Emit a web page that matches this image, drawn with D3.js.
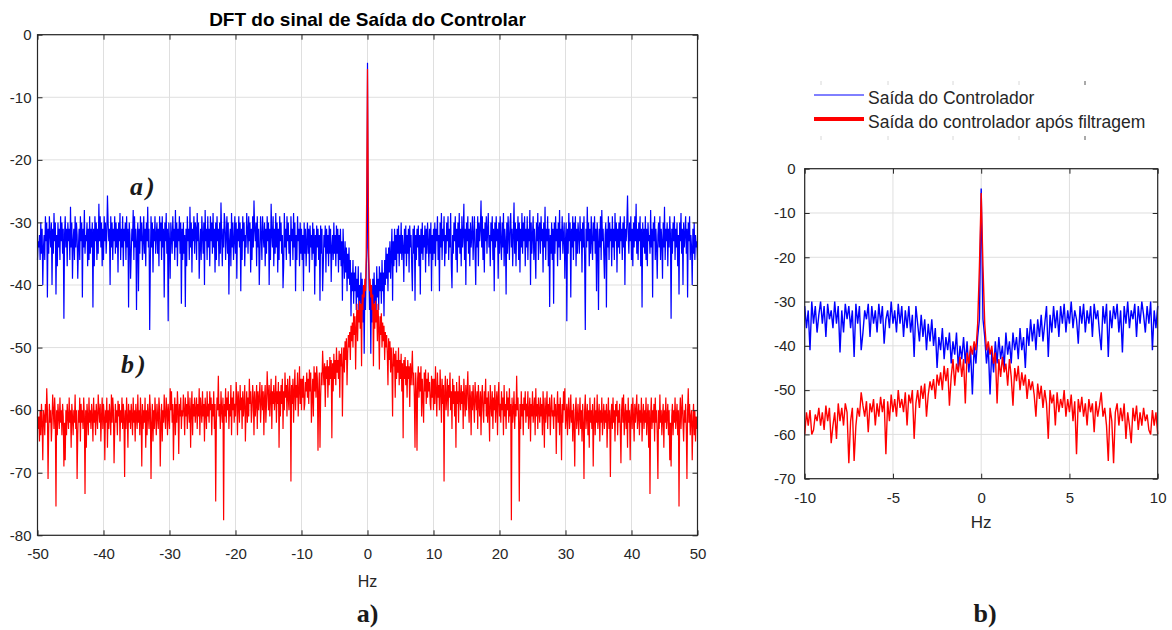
<!DOCTYPE html>
<html>
<head>
<meta charset="utf-8">
<script src="https://cdn.jsdelivr.net/npm/d3@7"></script>
<style>
  body { margin: 0; background: #ffffff; }
  svg text { font-family: "Liberation Sans", Arial, sans-serif; }
</style>
</head>
<body>
<svg id="chart" width="1172" height="630"></svg>
<script>
// DFT magnitude (dB) of the controller output, positive-frequency half.
// Bins 0 .. 10 Hz, step 0.1 Hz
const centerStep = 0.1;
const blueCenter = [
  -4.5,-34,-38,-44,-40,-51,-41,-46,-39,-44,
  -38,-43,-40,-45,-37,-42,-39,-44,-37,-41,
  -38,-43,-36,-41,-38,-45,-36,-40,-34,-39,
  -35,-41,-34,-38,-33,-39,-35,-31,-42.5,-33,
  -37,-31,-36,-32,-38,-31,-35,-30.5,-37,-32,
  -35,-30,-36,-32,-34,-39.5,-31,-35,-30.5,-37,
  -32,-35,-31,-38,-30.5,-34,-32,-37,-41,-31,
  -35,-30.5,-42.5,-32,-36,-31,-34,-30.5,-37,-32,
  -41.5,-31,-35,-30,-36,-32,-34,-30.5,-38,-31,
  -35,-30,-33,-37,-31,-35,-30,-41,-32,-36,
  -31
];
const redCenter = [
  -5.5,-22,-35,-41,-39,-42,-40,-44,-41.5,-53,
  -43,-47,-42.5,-46,-44,-49,-43,-47,-53.5,-45,
  -48,-44.5,-50,-46,-49,-46.5,-52,-47.5,-50,-48,
  -51,-56,-48.5,-52,-49,-54,-50,-53,-61,-50,
  -53,-51,-58,-50.5,-55,-52,-54,-50,-56,-52,
  -55,-51,-57,-52.5,-64.5,-52,-55,-51.5,-56,-53,
  -58,-52,-55,-53,-59.5,-52.5,-56,-53.5,-50.5,-56,
  -54,-58,-66,-54,-57,-66.5,-55,-53,-58,-54,
  -57,-53,-61,-55,-58,-62,-54,-57,-53.5,-59,
  -55,-58,-54,-57,-55.5,-59,-60,-54.5,-58,-55,
  -60
];

// Bins 10.1 .. 50 Hz, step 0.1 Hz (one row = 2 Hz)
const outerStart = 10;
const outerStep = 0.1;
const blueOuter = [
  -35,-30,-37,-31,-33,-29,-36,-32,-41,-30,-34,-28.5,-36,-31,-33,-29,-37,-32,-35,-30,
  -33,-29,-36,-31,-34,-28.5,-37,-40.5,-32,-35,-30,-33,-29,-36,-31,-38,-30,-34,-28.5,-35,
  -31,-37,-29,-34,-32,-27,-36,-31,-40,-30,-33,-29,-35,-31,-37,-30,-34,-32,-29,-36,
  -32,-29,-35,-40,-31,-34,-29,-37,-30,-33,-31,-26.5,-34,-29,-36,-31,-38,-30,-33,-29,
  -35,-31,-28.5,-34,-32,-37,-30,-33,-29,-36,-31,-41,-30,-34,-29,-33,-31,-39,-30,-35,
  -29,-33,-36,-30,-34,-28.5,-37,-31,-33,-41.5,-30,-35,-29,-32,-36,-30,-28.5,-34,-31,-37,
  -32,-26.8,-35,-30,-37,-31,-33,-29,-36,-30,-38,-31,-34,-28.5,-35,-30,-33,-29,-37,-31,
  -34,-29,-36,-31,-33,-28,-40,-30,-35,-32,-29,-36,-31,-34,-39,-30,-33,-28.5,-36,-31,
  -30,-35,-29,-33,-31,-38,-30,-34,-27.5,-36,-31,-33,-29,-37,-31,-43.5,-32,-35,-30,-36,
  -31,-43,-30,-35,-29,-33,-31,-37,-30,-34,-28,-36,-31,-33,-29,-35,-32,-30,-39,-33,
  -30,-45.8,-31,-35,-28.5,-33,-30,-42,-31,-34,-29,-36,-30,-33,-29,-37,-31,-35,-30,-32,
  -35,-29,-33,-31,-38,-30,-34,-29,-36,-47.2,-31,-34,-27.5,-33,-30,-37,-31,-35,-29,-33,
  -36,-30,-33,-29,-35,-31,-41,-30,-33,-44,-31,-34,-29,-36,-28,-33,-31,-35,-39,-32,
  -30,-43.6,-31,-34,-29,-36,-30,-33,-31,-37,-29,-34,-31,-36,-28.5,-33,-30,-38,-31,-34,
  -30,-35,-29,-33,-31,-36,-30,-34,-29,-40,-31,-33,-30,-25.7,-32,-35,-30,-33,-29,-36,
  -31,-37,-30,-34,-29,-33,-27,-35,-31,-36,-30,-33,-29,-37,-31,-43.6,-30,-34,-31,-35,
  -29,-36,-31,-37,-30,-33,-32,-35,-28,-34,-31,-42,-30,-33,-29,-36,-31,-34,-39,-32,
  -30,-34,-29,-36,-31,-33,-39,-30,-34,-27.5,-36,-31,-33,-30,-37,-31,-34,-29,-32,-45.4,
  -31,-35,-30,-33,-29,-36,-31,-34,-30,-37,-32,-41.5,-30,-33,-28.5,-35,-31,-40,-30,-34,
  -32,-29,-35,-31,-42,-30,-33,-29,-36,-32,-34,-40,-31,-35,-30,-36,-32,-34,-33,-36
];
const redOuter = [
  -55,-59,-53,-57,-61,-54,-58,-56,-60,-53.5,-57,-62,-55,-59,-56,-71.4,-57,-54.5,-60,-58,
  -55,-61,-56,-58,-54,-60,-57,-63,-55,-59,-56,-61,-57,-66,-55.5,-59,-57,-62,-54.5,-58,
  -60,-56,-59,-57,-63,-55,-58,-61,-56,-60,-57,-53.8,-59,-62,-56,-58,-64,-57,-60,-56,
  -59,-62,-55.5,-58,-60,-57,-63,-56,-59,-61,-57,-64,-58,-56,-60,-62,-57,-59,-55,-61,
  -58,-62,-57,-60,-65,-56,-59,-61,-57,-63,-58,-60,-56,-62,-59,-57,-64,-58,-55.5,-61,
  -59,-62,-57,-60,-58,-64,-56,-61,-59,-63,-57,-60,-58,-62,-56.5,-61,-59,-77.6,-58,-62,
  -60,-57,-63,-59,-61,-54.5,-60,-58,-62,-74.6,-59,-63,-57,-61,-59,-64,-58,-60,-57,-62,
  -59,-61,-57,-63,-60,-58,-65,-59,-61,-57,-62,-60,-58,-64,-56.5,-61,-59,-63,-58,-60,
  -62,-58,-61,-59,-64,-57,-60,-66,-58,-62,-60,-57,-63,-59,-61,-58,-64,-60,-57.5,-61,
  -60,-63,-58,-61,-59,-67,-60,-57,-62,-59,-64,-58,-61,-68,-59,-62,-57,-60,-56.5,-63,
  -61,-59,-64,-60,-58,-63,-61,-57.5,-62,-60,-65,-59,-62,-69,-60,-58,-63,-61,-59,-64,
  -61,-58,-63,-60,-65,-59,-62,-71,-60,-57.5,-63,-61,-59,-64,-60,-66,-58,-62,-60,-63,
  -59,-69,-61,-58,-64,-60,-62,-57.5,-63,-61,-59,-65,-60,-62,-58,-64,-61,-59,-63,-60,
  -62,-59,-66,-61,-58,-63,-60,-70.7,-61,-59,-63,-58,-62,-60,-65,-59,-61,-58.5,-64,-60,
  -62,-59,-63,-68.5,-60,-58,-62,-57.5,-64,-61,-59,-63,-60,-66,-58,-62,-60,-68,-61,-59,
  -63,-58,-61,-65,-59,-62,-60,-57.5,-63,-61,-59,-64,-60,-62,-58,-65,-61,-59,-63,-60,
  -62,-58,-64,-61,-59,-66,-60,-73.4,-61,-58,-63,-60,-62,-59,-65,-58,-62,-60,-64,-71,
  -60,-63,-57.5,-62,-60,-64,-61,-59,-66,-60,-62,-58,-63,-61,-59,-64,-60,-68,-62,-69,
  -61,-59,-64,-60,-62,-58,-63,-61,-59,-64,-60,-75.4,-61,-58,-63,-60,-57.5,-62,-65,-60,
  -62,-59,-63,-71,-60,-56.5,-62,-59,-64,-61,-60,-68,-62,-59,-64,-60,-65,-61,-63,-61
];

const xTicksA = [-50, -40, -30, -20, -10, 0, 10, 20, 30, 40, 50];
const yTicksA = [0, -10, -20, -30, -40, -50, -60, -70, -80];
const xTicksB = [-10, -5, 0, 5, 10];
const yTicksB = [0, -10, -20, -30, -40, -50, -60, -70];
const titleA = "DFT do sinal de Saída do Controlar";
const xLabel = "Hz";
const legendLabels = ["Saída do Controlador", "Saída do controlador após filtragem"];
const seriesColors = ["#0000ff", "#ff0000"];

// The signal is real, so its spectrum is symmetric: |X(-f)| = |X(f)|.
function twoSided(center, outer) {
  const pos = center.map((v, i) => ({ f: +(i * centerStep).toFixed(2), v }));
  if (outer) outer.forEach((v, j) => pos.push({ f: +(outerStart + (j + 1) * outerStep).toFixed(2), v }));
  const neg = pos.slice(1).map(d => ({ f: -d.f, v: d.v })).reverse();
  return neg.concat(pos);
}

const svg = d3.select("#chart");
const axisColor = "#262626";
const gridColor = "#dfdfdf";

function panel(cfg) {
  const g = svg.append("g");
  const x = d3.scaleLinear().domain(cfg.xDomain).range([cfg.left, cfg.right]);
  const y = d3.scaleLinear().domain(cfg.yDomain).range([cfg.bottom, cfg.top]);

  // grid
  g.append("g").selectAll("line").data(cfg.xTicks).join("line")
    .attr("x1", d => x(d)).attr("x2", d => x(d))
    .attr("y1", cfg.top).attr("y2", cfg.bottom)
    .attr("stroke", gridColor).attr("stroke-width", 1);
  g.append("g").selectAll("line").data(cfg.yTicks).join("line")
    .attr("y1", d => y(d)).attr("y2", d => y(d))
    .attr("x1", cfg.left).attr("x2", cfg.right)
    .attr("stroke", gridColor).attr("stroke-width", 1);

  // spectra
  const line = d3.line().x(d => x(d.f)).y(d => y(d.v));
  cfg.series.forEach(s => {
    g.append("path").datum(s.data)
      .attr("fill", "none")
      .attr("stroke", s.color)
      .attr("stroke-width", s.width)
      .attr("stroke-linejoin", "bevel")
      .attr("d", line);
  });

  const fmt = d => String(d);
  const styleAxis = sel => {
    sel.select(".domain").remove();
    sel.selectAll(".tick line").attr("stroke", axisColor).attr("stroke-width", 1);
    sel.selectAll("text").attr("fill", axisColor)
      .style("font-family", '"Liberation Sans", Arial, sans-serif')
      .style("font-size", cfg.tickFont + "px");
  };
  g.append("g").attr("transform", `translate(0,${cfg.bottom})`)
    .call(d3.axisBottom(x).tickValues(cfg.xTicks).tickFormat(fmt)
      .tickSizeInner(-5).tickSizeOuter(0).tickPadding(cfg.xPad))
    .call(styleAxis);
  g.append("g").attr("transform", `translate(0,${cfg.top})`)
    .call(d3.axisTop(x).tickValues(cfg.xTicks).tickFormat("")
      .tickSizeInner(-5).tickSizeOuter(0))
    .call(styleAxis);
  g.append("g").attr("transform", `translate(${cfg.left},0)`)
    .call(d3.axisLeft(y).tickValues(cfg.yTicks).tickFormat(fmt)
      .tickSizeInner(-5).tickSizeOuter(0).tickPadding(cfg.yPad))
    .call(styleAxis);
  g.append("g").attr("transform", `translate(${cfg.right},0)`)
    .call(d3.axisRight(y).tickValues(cfg.yTicks).tickFormat("")
      .tickSizeInner(-5).tickSizeOuter(0))
    .call(styleAxis);

  // axes box
  g.append("rect")
    .attr("x", cfg.left).attr("y", cfg.top)
    .attr("width", cfg.right - cfg.left).attr("height", cfg.bottom - cfg.top)
    .attr("fill", "none").attr("stroke", axisColor).attr("stroke-width", 1.2);

  // x-axis label
  g.append("text")
    .attr("x", (cfg.left + cfg.right) / 2).attr("y", cfg.xLabelY)
    .attr("text-anchor", "middle").attr("fill", axisColor)
    .style("font-size", cfg.labelFont + "px")
    .text(xLabel);
  return { x, y, g };
}

// Panel a): full band, -50 .. 50 Hz
const fullBlue = twoSided(blueCenter, blueOuter);
const fullRed = twoSided(redCenter, redOuter);
const pA = panel({
  left: 37.5, right: 697.5, top: 34.7, bottom: 535.3,
  xDomain: [-50, 50], yDomain: [-80, 0],
  xTicks: xTicksA, yTicks: yTicksA,
  tickFont: 15, labelFont: 16, xPad: 13, yPad: 6, xLabelY: 587,
  series: [
    { data: fullBlue, color: seriesColors[0], width: 1.2 },
    { data: fullRed, color: seriesColors[1], width: 1.2 }
  ]
});
pA.g.append("text")
  .attr("x", 367.5).attr("y", 26)
  .attr("text-anchor", "middle").attr("fill", "#000")
  .style("font-size", "19px").style("font-weight", "bold")
  .text(titleA);

// curve tags inside panel a)
const tagStyle = sel => sel
  .attr("fill", "#1a1a1a")
  .style("font-family", '"Liberation Serif", "Times New Roman", serif')
  .style("font-style", "italic").style("font-weight", "bold")
  .style("font-size", "26px").style("letter-spacing", "3px");
pA.g.append("text").attr("x", 130).attr("y", 195).text("a)").call(tagStyle);
pA.g.append("text").attr("x", 121).attr("y", 373).text("b)").call(tagStyle);

// Panel b): zoom on -10 .. 10 Hz
const zoomBlue = twoSided(blueCenter, null);
const zoomRed = twoSided(redCenter, null);
panel({
  left: 804.7, right: 1157.7, top: 168.7, bottom: 478.7,
  xDomain: [-10, 10], yDomain: [-70, 0],
  xTicks: xTicksB, yTicks: yTicksB,
  tickFont: 15, labelFont: 17, xPad: 14, yPad: 9, xLabelY: 528,
  series: [
    { data: zoomBlue, color: seriesColors[0], width: 1.4 },
    { data: zoomRed, color: seriesColors[1], width: 1.4 }
  ]
});

// legend
const legend = svg.append("g");
const legendRows = [
  { label: legendLabels[0], color: seriesColors[0], width: 1, y: 95, textY: 104 },
  { label: legendLabels[1], color: seriesColors[1], width: 4, y: 119, textY: 128 }
];
legendRows.forEach(r => {
  legend.append("line")
    .attr("x1", 814).attr("x2", 864).attr("y1", r.y).attr("y2", r.y)
    .attr("stroke", r.color).attr("stroke-width", r.width);
  legend.append("text")
    .attr("x", 868).attr("y", r.textY)
    .attr("fill", axisColor).style("font-size", "17.5px")
    .text(r.label);
});
// tick stubs of the legend's host axes
const stubX = [821, 888, 953, 1019, 1085];
stubX.forEach((sx, i) => {
  [[81, 85], [136, 140]].forEach(([y1, y2]) => {
    legend.append("line")
      .attr("x1", sx).attr("x2", sx).attr("y1", y1).attr("y2", y2)
      .attr("stroke", i === stubX.length - 1 ? "#555" : "#d8d8d8").attr("stroke-width", 1);
  });
});

// sub-figure captions
const capStyle = sel => sel
  .attr("text-anchor", "middle").attr("fill", "#1a1a1a")
  .style("font-family", '"Liberation Serif", "Times New Roman", serif')
  .style("font-weight", "bold").style("font-size", "26px");
svg.append("text").attr("x", 367.5).attr("y", 622).text("a)").call(capStyle);
svg.append("text").attr("x", 985).attr("y", 622).text("b)").call(capStyle);
</script>
</body>
</html>
